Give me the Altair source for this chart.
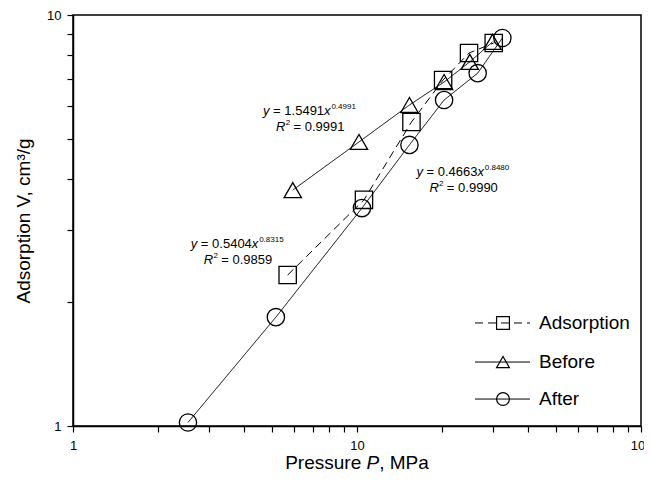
import altair as alt
import pandas as pd

FONT = "Liberation Sans, Arial, sans-serif"

# ---------------- data ----------------
series_names = ["Adsorption", "Before", "After"]

pressure_ads = [5.70, 10.58, 15.55, 20.1, 24.8, 30.3]
v_ads = [2.33, 3.55, 5.49, 6.95, 8.08, 8.55]

pressure_before = [5.94, 10.16, 15.30, 20.26, 24.95, 30.0]
v_before = [3.75, 4.91, 6.04, 6.87, 7.69, 8.60]

pressure_after = [2.54, 5.18, 10.41, 15.30, 20.26, 26.6, 32.5]
v_after = [1.02, 1.84, 3.39, 4.83, 6.21, 7.22, 8.79]

# fitted-equation annotations (Before, Adsorption, After)
fit_coef = ["1.5491", "0.5404", "0.4663"]
fit_exp = ["0.4991", "0.8315", "0.8480"]
fit_r2 = ["0.9991", "0.9859", "0.9990"]
fit_anchor_p = [4.667, 2.598, 16.19]
fit_anchor_v = [5.710, 2.711, 4.058]

x_ticks = [1, 2, 3, 4, 5, 6, 7, 8, 9, 10, 20, 30, 40, 50, 60, 70, 80, 90, 100]
x_labels = [1, 10, 100]
y_ticks = [1, 2, 3, 4, 5, 6, 7, 8, 9, 10]
y_labels = [1, 10]

legend_v = [1.781, 1.431, 1.163]

x_title_parts = ["Pressure", "P", ", MPa"]
y_title = "Adsorption V, cm³/g"

# ---------------- tables ----------------
df = pd.DataFrame({
    "series": ["Adsorption"] * len(pressure_ads) + ["Before"] * len(pressure_before) + ["After"] * len(pressure_after),
    "P": pressure_ads + pressure_before + pressure_after,
    "V": v_ads + v_before + v_after,
})

ann = pd.DataFrame({
    "P": fit_anchor_p,
    "V": fit_anchor_v,
    "ylab": ["y"] * 3,
    "coef": ["= " + c for c in fit_coef],
    "xlab": ["x"] * 3,
    "exp": fit_exp,
    "Rlab": ["R"] * 3,
    "two": ["2"] * 3,
    "r2": ["= " + r for r in fit_r2],
})

leg = pd.DataFrame({"series": series_names, "V": legend_v})
dummy = pd.DataFrame({"a": [0]})

W, H = 568, 411

xs = alt.Scale(type="log", domain=[1, 100], nice=False)
ys = alt.Scale(type="log", domain=[1, 10], nice=False)
dash_scale = alt.Scale(domain=series_names, range=[[8, 5], [1, 0], [1, 0]])
shape_scale = alt.Scale(domain=series_names, range=["square", "triangle-up", "circle"])

x_axis = alt.Axis(
    values=x_ticks,
    labelExpr=f"indexof({x_labels}, datum.value) >= 0 ? datum.value + '' : ''",
    title=None, grid=False, tickSize=6, labelPadding=7, labelFlush=False, labelOverlap=False,
)
y_axis = alt.Axis(
    values=y_ticks,
    labelExpr=f"indexof({y_labels}, datum.value) >= 0 ? datum.value + '' : ''",
    title=y_title, grid=False, tickSize=6, labelPadding=6, labelFlush=False, labelOverlap=False,
    titleFontSize=19, titleFont=FONT, titleFontWeight="normal", titleColor="black",
    titleAngle=270, titleX=-44, titleY=H / 2, titleAlign="center", titleBaseline="alphabetic",
)

X = alt.X("P:Q", scale=xs, axis=x_axis)
Y = alt.Y("V:Q", scale=ys, axis=y_axis)

lines = alt.Chart(df).mark_line(color="black", strokeWidth=1).encode(
    x=X, y=Y,
    strokeDash=alt.StrokeDash("series:N", scale=dash_scale, legend=None),
)
points = alt.Chart(df).mark_point(filled=False, color="black", size=300, strokeWidth=1.3, opacity=1).encode(
    x=X, y=Y,
    shape=alt.Shape("series:N", scale=shape_scale, legend=None),
)

# annotation pieces
FS, SUP = 13, 8
cw = {"d": 0.556, ".": 0.278, " ": 0.278, "=": 0.584, "y": 0.5, "x": 0.5, "R": 0.722}
def tw(s, size):
    return sum(cw["d"] if ch.isdigit() else cw.get(ch, 0.556) for ch in s) * size

def piece(field, dx, dy, size=FS, italic=False):
    return alt.Chart(ann).mark_text(
        align="left", baseline="alphabetic", dx=dx, dy=dy, fontSize=size,
        fontStyle="italic" if italic else "normal", font=FONT, color="black",
    ).encode(x=X, y=Y, text=f"{field}:N")

d_coef = tw("y ", FS)
d_x = d_coef + tw("= 1.5491", FS)
d_exp = d_x + tw("x", FS) + 0.8
L2X, L2Y = 13, 16
d_two = L2X + tw("R", FS) + 0.3
d_r2 = L2X + tw("R", FS) + tw("2", SUP) + tw(" ", FS)

ann_layers = [
    piece("ylab", 0, 0, italic=True),
    piece("coef", d_coef, 0),
    piece("xlab", d_x, 0, italic=True),
    piece("exp", d_exp, -6, size=SUP),
    piece("Rlab", L2X, L2Y, italic=True),
    piece("two", d_two, L2Y - 6, size=SUP),
    piece("r2", d_r2, L2Y),
]

# legend
leg_rule = alt.Chart(leg).mark_rule(color="black", strokeWidth=1).encode(
    x=alt.value(402), x2=alt.value(457), y=Y,
    strokeDash=alt.StrokeDash("series:N", scale=dash_scale, legend=None),
)
leg_pt = alt.Chart(leg).mark_point(filled=False, color="black", size=165, strokeWidth=1.2, opacity=1).encode(
    x=alt.value(430), y=Y,
    shape=alt.Shape("series:N", scale=shape_scale, legend=None),
)
leg_txt = alt.Chart(leg).mark_text(align="left", baseline="middle", fontSize=19, font=FONT, color="black").encode(
    x=alt.value(466), y=Y, text="series:N",
)

# x axis title with italic P
TS = 19
tw_title = [4.001 * TS, 0.667 * TS, 2.612 * TS]
tstart = W / 2 - (tw_title[0] + cw[" "] * TS + tw_title[1] + tw_title[2]) / 2
tpos = [tstart, tstart + tw_title[0] + cw[" "] * TS, tstart + tw_title[0] + cw[" "] * TS + tw_title[1]]
title_layers = []
for txt, xp, it in zip(x_title_parts, tpos, [False, True, False]):
    title_layers.append(
        alt.Chart(dummy).mark_text(
            align="left", baseline="alphabetic", fontSize=TS, font=FONT, color="black",
            fontStyle="italic" if it else "normal", text=txt,
        ).encode(x=alt.value(xp), y=alt.value(H + 43))
    )

chart = alt.layer(lines, points, *ann_layers, leg_rule, leg_pt, leg_txt, *title_layers).properties(
    width=W, height=H,
    padding={"left": 65, "top": 7, "right": 3, "bottom": 47},
    autosize=alt.AutoSizeParams(type="none"),
).configure_view(
    stroke="black", strokeWidth=1.5,
).configure_axis(
    domainColor="black", domainWidth=1.5, tickColor="black", tickWidth=1.2,
    labelFont=FONT, labelFontSize=13, labelColor="black",
)

chart.save("out.html", embed_options={"renderer": "svg", "actions": False})
